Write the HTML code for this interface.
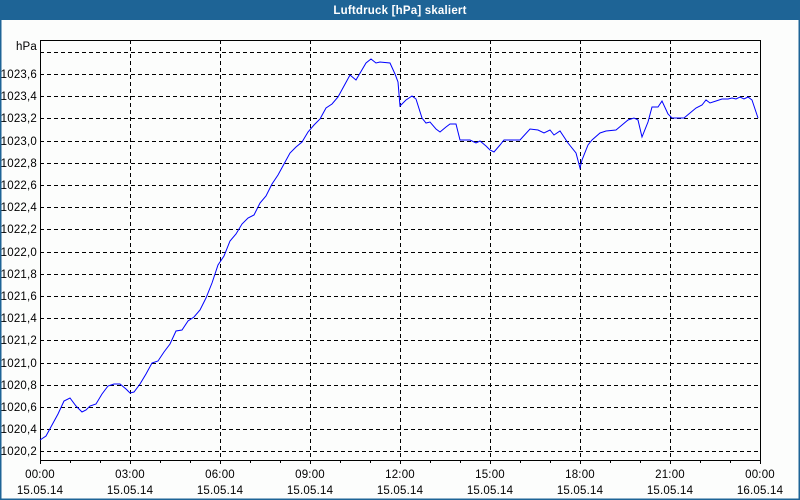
<!DOCTYPE html>
<html><head><meta charset="utf-8"><style>
html,body{margin:0;padding:0;background:#fcfdfc;}
svg{display:block;}
text{font-family:"Liberation Sans",sans-serif;font-size:11.5px;fill:#000;letter-spacing:0.2px;}
</style></head><body>
<svg width="800" height="500" xmlns="http://www.w3.org/2000/svg">
<rect x="0" y="0" width="800" height="500" fill="#fcfdfc"/>
<rect x="0.5" y="0.5" width="799" height="499" fill="none" stroke="#1e6496" stroke-width="2"/>
<rect x="0" y="0" width="800" height="20" fill="#1e6496"/>
<text x="400" y="14" text-anchor="middle" style="fill:#fff;font-weight:bold;font-size:11.5px">Luftdruck [hPa] skaliert</text>
<g stroke="#000" stroke-width="1" stroke-dasharray="4,3" fill="none">
<path d="M40 52.5H760M40 74.5H760M40 96.5H760M40 118.5H760M40 141.5H760M40 163.5H760M40 185.5H760M40 207.5H760M40 229.5H760M40 252.5H760M40 274.5H760M40 296.5H760M40 318.5H760M40 340.5H760M40 363.5H760M40 385.5H760M40 407.5H760M40 429.5H760M40 451.5H760"/>
<path d="M130.5 40V460M220.5 40V460M310.5 40V460M400.5 40V460M490.5 40V460M580.5 40V460M670.5 40V460"/>
</g>
<rect x="40.5" y="40.5" width="720" height="420" fill="none" stroke="#000"/>
<g stroke="#000">
<path d="M40.5 460V464M70.5 460V463M100.5 460V463M130.5 460V464M160.5 460V463M190.5 460V463M220.5 460V464M250.5 460V463M280.5 460V463M310.5 460V464M340.5 460V463M370.5 460V463M400.5 460V464M430.5 460V463M460.5 460V463M490.5 460V464M520.5 460V463M550.5 460V463M580.5 460V464M610.5 460V463M640.5 460V463M670.5 460V464M700.5 460V463M730.5 460V463M760.5 460V464"/>
</g>
<g text-anchor="end">
<text x="37" y="50">hPa</text>
<text x="37" y="78">1023,6</text><text x="37" y="100">1023,4</text><text x="37" y="122">1023,2</text><text x="37" y="145">1023,0</text><text x="37" y="167">1022,8</text><text x="37" y="189">1022,6</text><text x="37" y="211">1022,4</text><text x="37" y="233">1022,2</text><text x="37" y="256">1022,0</text><text x="37" y="278">1021,8</text><text x="37" y="300">1021,6</text><text x="37" y="322">1021,4</text><text x="37" y="344">1021,2</text><text x="37" y="367">1021,0</text><text x="37" y="389">1020,8</text><text x="37" y="411">1020,6</text><text x="37" y="433">1020,4</text><text x="37" y="455">1020,2</text>
</g>
<g text-anchor="middle">
<text x="40" y="478">00:00</text><text x="40" y="494">15.05.14</text>
<text x="130" y="478">03:00</text><text x="130" y="494">15.05.14</text>
<text x="220" y="478">06:00</text><text x="220" y="494">15.05.14</text>
<text x="310" y="478">09:00</text><text x="310" y="494">15.05.14</text>
<text x="400" y="478">12:00</text><text x="400" y="494">15.05.14</text>
<text x="490" y="478">15:00</text><text x="490" y="494">15.05.14</text>
<text x="580" y="478">18:00</text><text x="580" y="494">15.05.14</text>
<text x="670" y="478">21:00</text><text x="670" y="494">15.05.14</text>
<text x="760" y="478">00:00</text><text x="760" y="494">16.05.14</text>
</g>
<polyline fill="none" stroke="#0000ff" stroke-width="1" points="40,440 46,436 52,425 58,414 64,401 70,398 76,406 82,412 86,410 90,406 96,404 102,394 108,386 114,384 120,384 126,389 130,393 134,392 140,384 146,374 152,363 158,361 164,352 170,344 176,331 182,330 188,321 194,317 200,310 206,298 212,283 218,265 224,256 230,241 236,234 242,224 248,218 254,215 260,203 266,196 272,184 278,175 284,164 290,153 296,147 302,142 308,132 314,125 320,119 326,108 332,104 338,97 344,86 350,75 356,80 366,63 371,59 376,63 380,62 390,63 395,74 398,82 400,106 406,100 412,96 416,99 422,118 426,123 430,122 436,129 440,132 446,127 450,124 456,124 460,140 470,140 476,143 480,141 486,146 490,150 494,152 500,145 504,140 520,140 530,129 538,130 544,133 550,130 554,135 560,131 568,143 576,153 580,168 582,160 588,145 592,140 600,133 606,131 616,130 622,125 628,120 634,118 638,120 642,137 648,122 652,107 658,107 662,101 668,114 672,118 684,118 690,113 696,108 702,105 706,100 710,103 716,101 722,99 728,99 732,98 736,99 740,97 744,99 748,97 752,100 756,112 758,118"/>
</svg>
</body></html>
